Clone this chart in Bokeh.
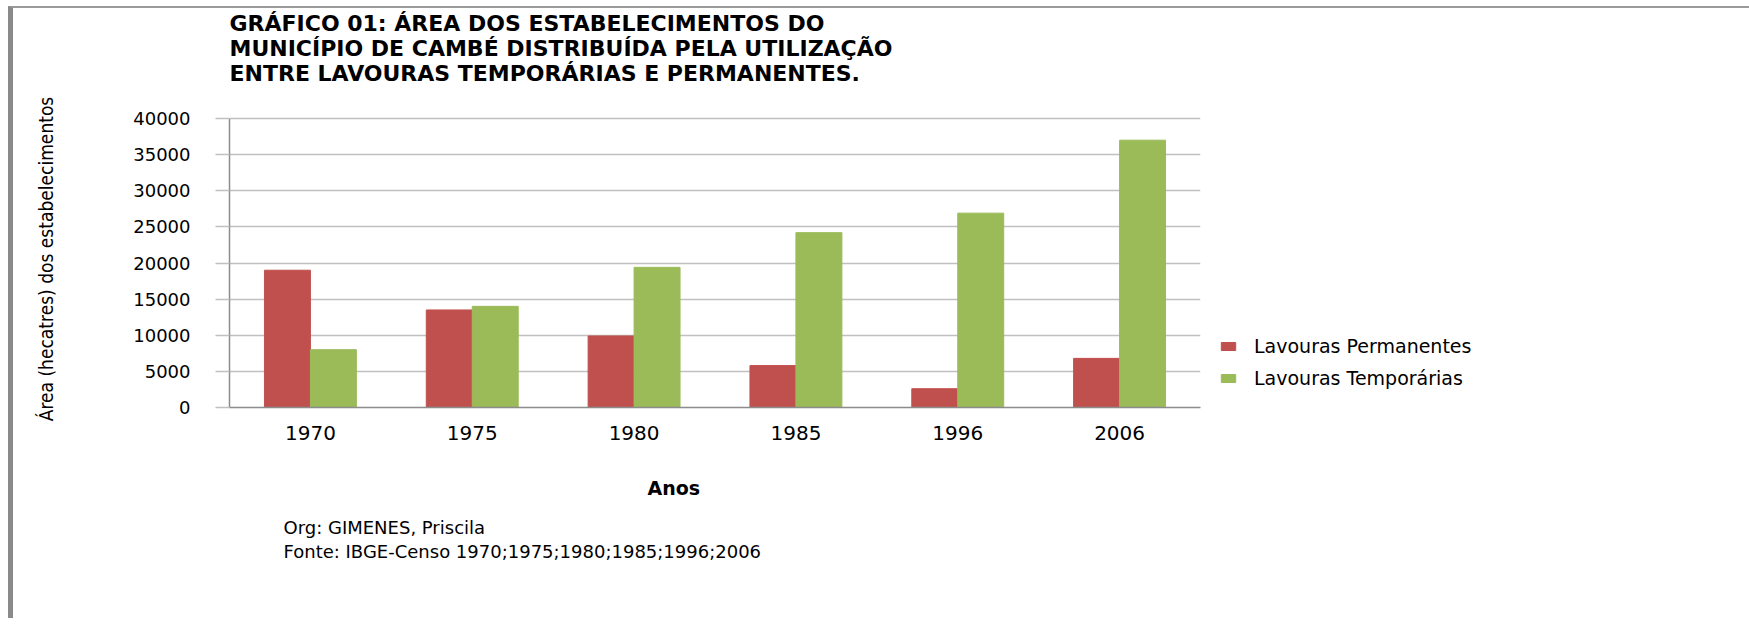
from bokeh.plotting import figure
from bokeh.models import (ColumnDataSource, FactorRange, Range1d, Legend, LegendItem,
                          Title, SingleIntervalTicker)
from bokeh.transform import dodge
from bokeh.embed import file_html
from bokeh.resources import INLINE

# ---------------- data ----------------
years = ["1970", "1975", "1980", "1985", "1996", "2006"]
permanentes = [19000, 13500, 9900, 5800, 2600, 6800]
temporarias = [8000, 14000, 19400, 24200, 26900, 37000]
series_names = ["Lavouras Permanentes", "Lavouras Temporárias"]
y_tick_interval = 5000
y_max = 40000

title_lines = [
    "GRÁFICO  01: ÁREA DOS ESTABELECIMENTOS DO",
    "MUNICÍPIO DE CAMBÉ DISTRIBUÍDA PELA UTILIZAÇÃO",
    "ENTRE LAVOURAS TEMPORÁRIAS E PERMANENTES.",
]
x_title = "Anos"
y_title = "Área (hecatres) dos estabelecimentos"
footer_lines = [
    "Org: GIMENES, Priscila",
    "Fonte: IBGE-Censo 1970;1975;1980;1985;1996;2006",
]

# ---------------- style / layout ----------------
RED = "#C0504D"
GREEN = "#9BBB59"
GRID = "#c0c0c0"
AXIS = "#8c8c8c"
FONT = "DejaVu Sans"
NARROW = "DejaVu Sans Condensed"

W, H = 1728, 610
FRAME_W = 971
PLOT_H = 289        # height of the 0..y_max band
HEADROOM = 8        # empty band above y_max, below the title
TOP = 102
FRAME_H = PLOT_H + HEADROOM
y_end = y_max * FRAME_H / PLOT_H

p = figure(
    x_range=FactorRange(factors=years, range_padding=0),
    y_range=Range1d(0, y_end),
    width=W, height=H, frame_width=FRAME_W, frame_height=FRAME_H,
    output_backend="svg", toolbar_location=None,
    min_border_left=216, min_border_right=W - 216 - FRAME_W,
    min_border_top=TOP, min_border_bottom=H - TOP - FRAME_H,
)
p.styles = {"margin-left": "8px", "margin-top": "6px",
            "border-left": "5px solid #8a8a8a", "border-top": "2px solid #9a9a9a"}
p.outline_line_color = None
p.background_fill_color = "white"
p.border_fill_color = "white"

src = ColumnDataSource(dict(years=years, perm=permanentes, temp=temporarias))
bw = 0.284
r1 = p.vbar(x=dodge("years", -bw / 2, range=p.x_range), top="perm", width=bw,
            source=src, fill_color=RED, line_color=RED)
r2 = p.vbar(x=dodge("years", bw / 2, range=p.x_range), top="temp", width=bw,
            source=src, fill_color=GREEN, line_color=GREEN)

# grid
p.xgrid.grid_line_color = None
p.ygrid.grid_line_color = GRID
p.ygrid.grid_line_width = 1.5
p.ygrid.ticker = SingleIntervalTicker(interval=y_tick_interval)

# y axis
ya = p.yaxis[0]
ya.ticker = SingleIntervalTicker(interval=y_tick_interval)
ya.bounds = (0, y_max)
ya.minor_tick_line_color = None
ya.major_tick_in = 0
ya.major_tick_out = 14
ya.major_tick_line_color = GRID
ya.major_tick_line_width = 1.5
ya.axis_line_color = AXIS
ya.axis_line_width = 1.5
ya.major_label_standoff = 25
ya.major_label_text_font = FONT
ya.major_label_text_font_size = "18px"
ya.major_label_text_color = "black"
ya.axis_label = y_title
ya.axis_label_text_font = NARROW
ya.axis_label_text_font_size = "19px"
ya.axis_label_text_font_style = "normal"
ya.axis_label_text_color = "black"
ya.axis_label_standoff = 73

# x axis
xa = p.xaxis[0]
xa.major_tick_line_color = None
xa.minor_tick_line_color = None
xa.major_tick_in = 0
xa.major_tick_out = 0
xa.axis_line_color = AXIS
xa.axis_line_width = 1.5
xa.major_label_standoff = 18
xa.major_label_text_font = FONT
xa.major_label_text_font_size = "20px"
xa.major_label_text_color = "black"

# legend (right side panel)
legend = Legend(
    items=[LegendItem(label=series_names[0], renderers=[r1]),
           LegendItem(label=series_names[1], renderers=[r2])],
    location=(19, 18), orientation="vertical",
    glyph_width=18, glyph_height=10, label_standoff=17,
    label_height=22, spacing=10, padding=0, margin=0,
    border_line_color=None, background_fill_alpha=0,
    label_text_font=FONT, label_text_font_size="19px",
    label_text_color="black",
)
p.add_layout(legend, "right")


def text_title(txt, size, bold, offset, standoff, line_height):
    return Title(text=txt, align="left", offset=offset, standoff=standoff,
                 text_font=FONT, text_font_size=size,
                 text_font_style="bold" if bold else "normal",
                 text_color="black", text_line_height=line_height)


# figure's own title stays empty (it is placed outermost)
p.title.text = ""
p.title.standoff = 0

# above: three-line chart title (a trailing line break keeps it clear of the plot)
p.add_layout(text_title("\n".join(title_lines) + "\n", "22px", True, 0, 0, 0.995), "above")

# below: x title, then the two-line source note
p.add_layout(text_title(x_title, "19px", True, 418, 64, 1.15), "below")
p.add_layout(text_title("\n".join(footer_lines), "18px", False, 54, -31, 1.15), "below")

open("out.html", "w").write(file_html(p, INLINE))
